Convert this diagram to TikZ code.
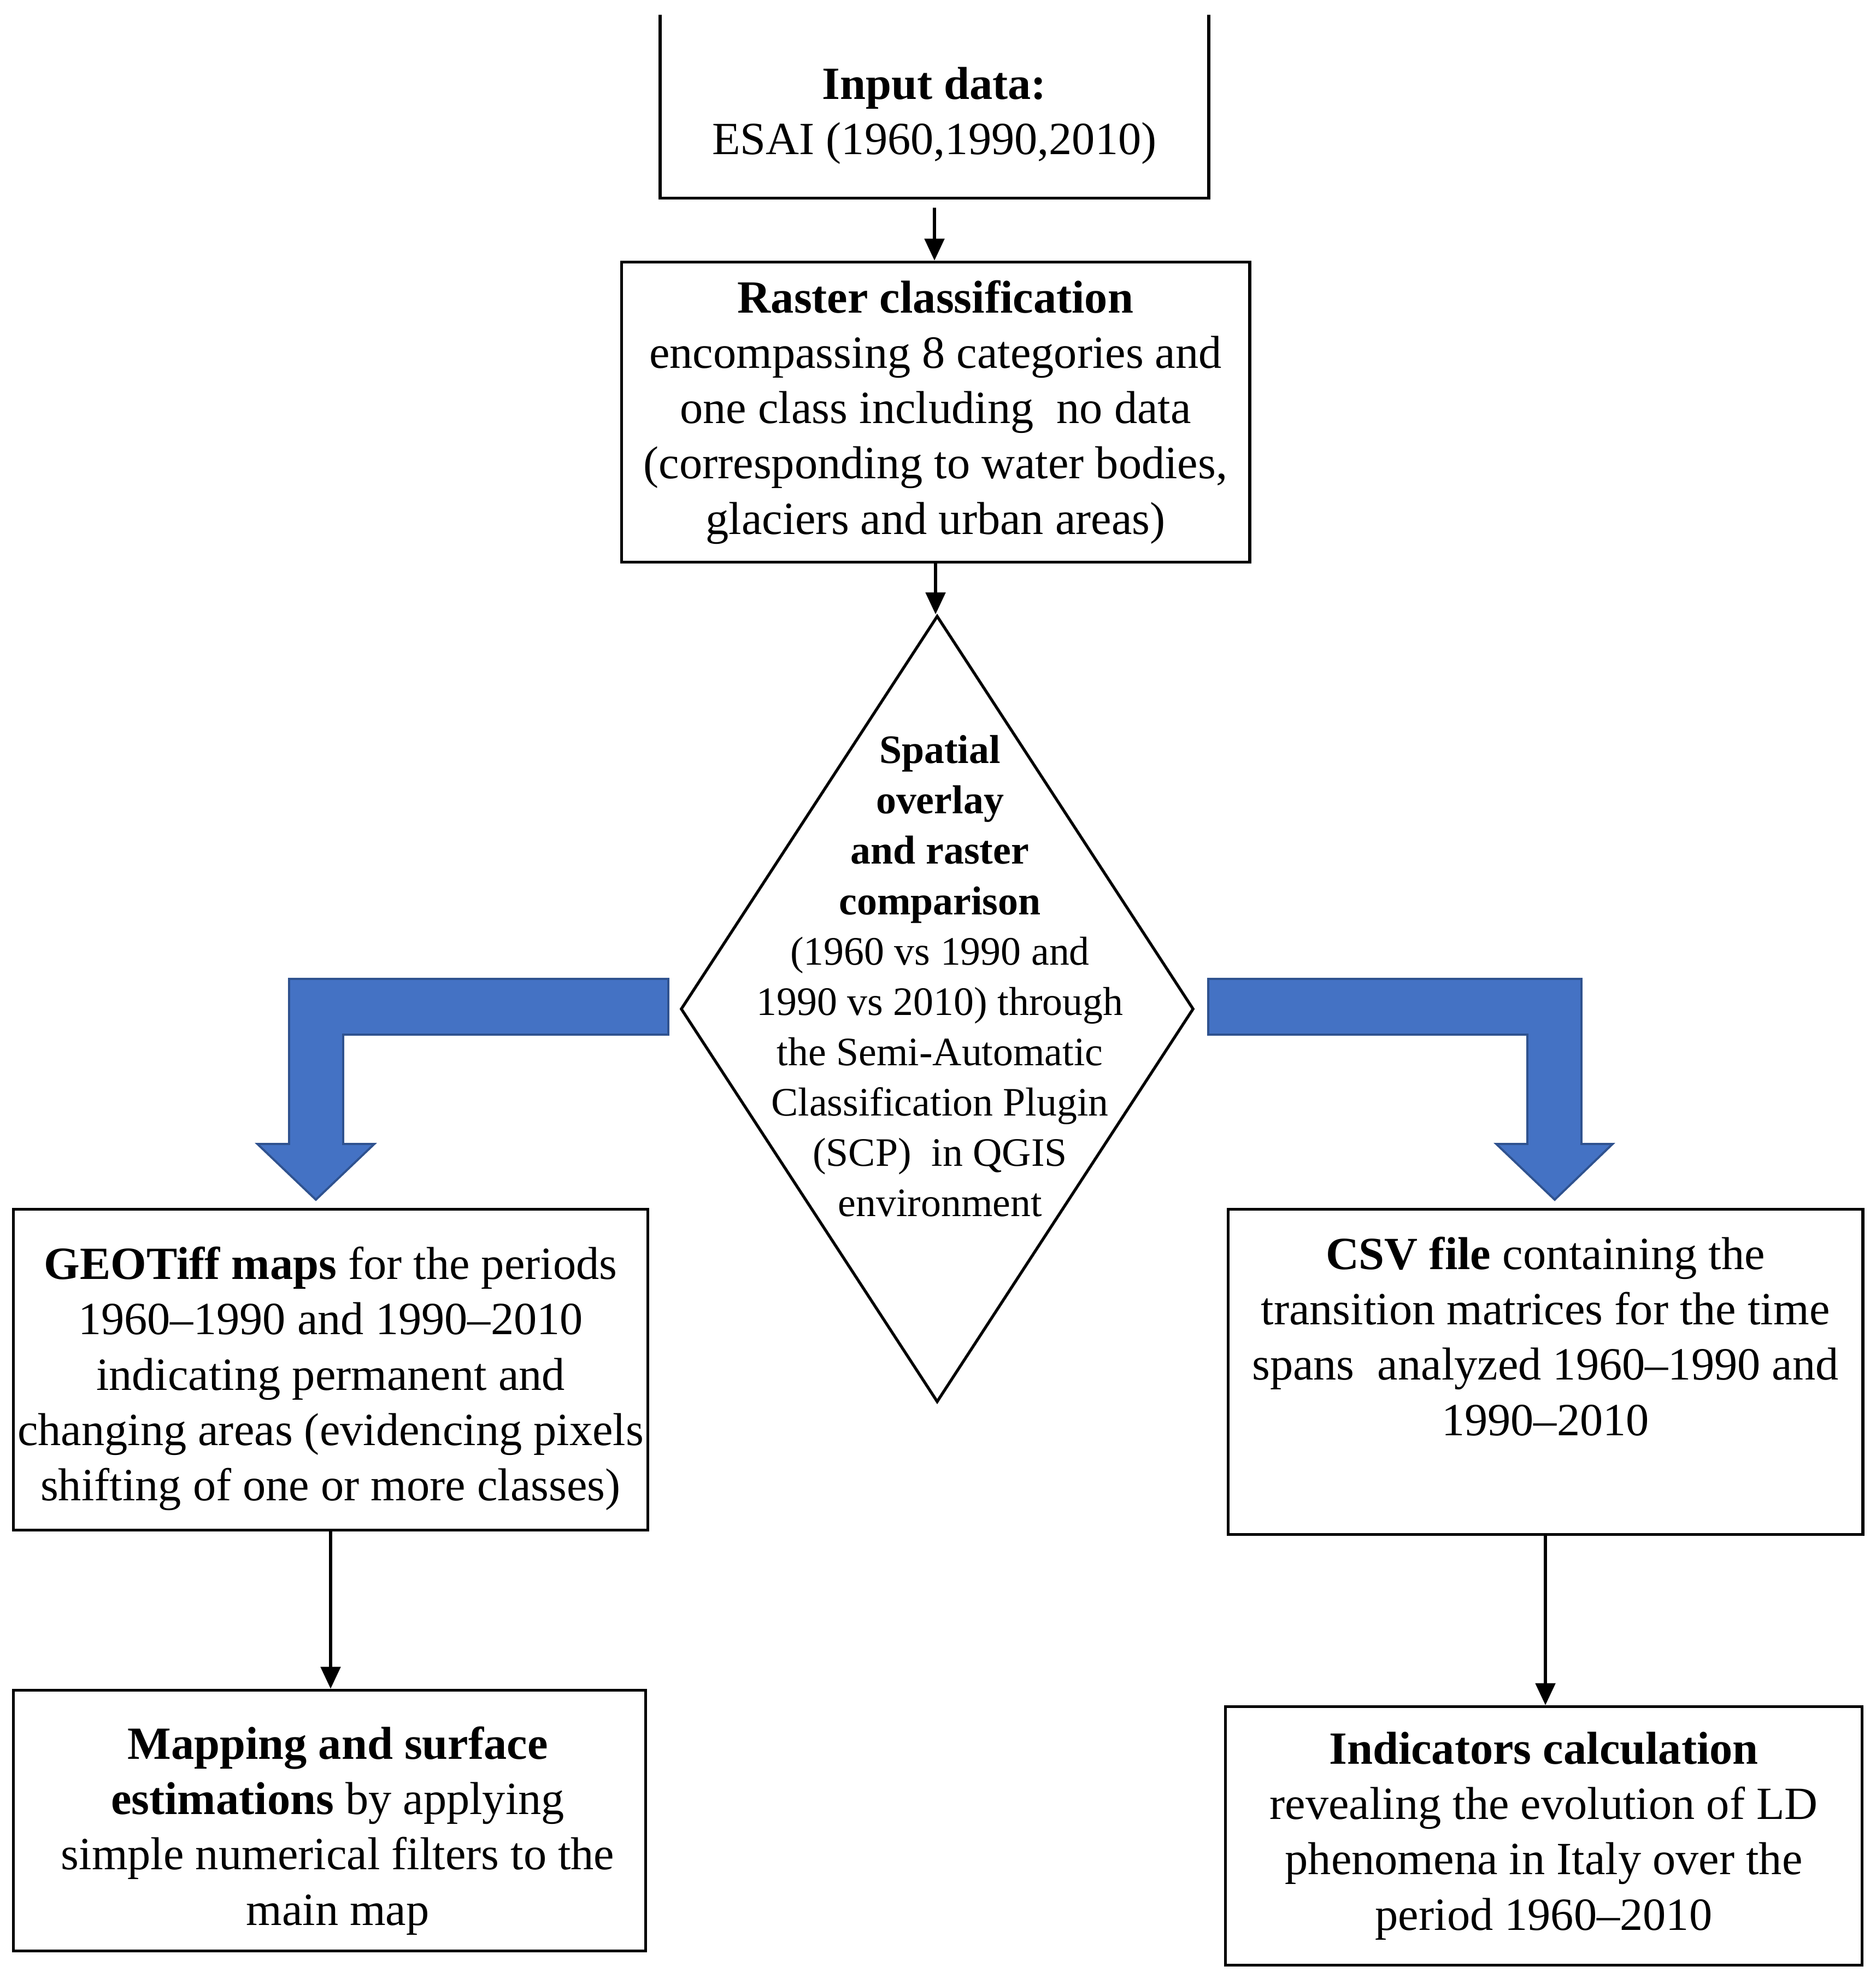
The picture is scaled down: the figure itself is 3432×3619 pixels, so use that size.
\documentclass[tikz,border=0pt]{standalone}
\usepackage{fontspec}
\setmainfont{Liberation Serif}
\usetikzlibrary{shapes.geometric,arrows.meta,positioning}

\definecolor{arrowblue}{HTML}{4472C4}
\definecolor{arrowedge}{HTML}{2F528F}

\begin{document}
\begin{tikzpicture}[
    x=0.01cm, y=-0.01cm,
    box/.style={rectangle, draw=black, line width=1.5pt, align=center, inner sep=0pt, font=\fontsize{24}{28.8}\selectfont},
    openbox/.style={rectangle, align=center, inner sep=0pt, font=\fontsize{24}{28.8}\selectfont},
    decision/.style={diamond, draw=black, line width=1.5pt, inner sep=0pt, minimum width=9.38cm, minimum height=14.38cm},
    dectext/.style={align=center, inner sep=0pt, font=\fontsize{21}{26.2}\selectfont},
    arrow/.style={-{Triangle[length=0.4cm, width=0.36cm]}, line width=1.5pt},
    bendarrow/.style={fill=arrowblue, draw=arrowedge, line width=1.1pt, line join=miter}
]
    \useasboundingbox (0,0) rectangle (3432,3619);

    % top of the chart
    \node [openbox, minimum width=10.02cm, minimum height=3.34cm] (input) at (1710,195)
        {\\[-0.09cm]\textbf{Input data:}\\ESAI (1960,1990,2010)};
    \draw [line width=1.5pt] (input.north west) -- (input.south west) -- (input.south east) -- (input.north east);

    \node [box, minimum width=11.49cm, minimum height=5.49cm] (raster) at (1712,754)
        {\textbf{Raster classification}\\encompassing 8 categories and\\one class including \ no data\\(corresponding to water bodies,\\glaciers and urban areas)};

    \node [decision] (ovl) at (1715,1846) {};
    \node [dectext] (ovltext) at (1720,1786)
        {\textbf{Spatial}\\\textbf{overlay}\\\textbf{and raster}\\\textbf{comparison}\\(1960 vs 1990 and\\1990 vs 2010) through\\the Semi-Automatic\\Classification Plugin\\(SCP) \ in QGIS\\environment};

    % two branches
    \node [box, minimum width=11.61cm, minimum height=5.87cm] (geo) at (605,2506)
        {\\[-0.09cm]\textbf{GEOTiff maps} for the periods\\1960--1990 and 1990--2010\\indicating permanent and\\changing areas (evidencing pixels\\shifting of one or more classes)};
    \node [box, minimum width=11.57cm, minimum height=4.77cm] (map) at (603,3331)
        {\\[-0.05cm]\hspace*{0.3cm}\textbf{Mapping and surface}\\\hspace*{0.3cm}\textbf{estimations} by applying\\\hspace*{0.3cm}simple numerical filters to the\\\hspace*{0.3cm}main map};

    \node [box, minimum width=11.61cm, minimum height=5.94cm] (csv) at (2828,2510)
        {\textbf{CSV file} containing the\\transition matrices for the time\\spans \ analyzed 1960--1990 and\\1990--2010\\[0.3cm]\mbox{}};
    \node [box, minimum width=11.64cm, minimum height=4.73cm] (ind) at (2825,3359)
        {\textbf{Indicators calculation}\\revealing the evolution of LD\\phenomena in Italy over the\\period 1960--2010};

    \draw [arrow, shorten <=0.17cm] (input.south) -- (input.south |- raster.north);
    \draw [arrow] (raster.south) -- (raster.south |- ovl.north);
    \draw [arrow] (geo.south) -- (geo.south |- map.north);
    \draw [arrow] (csv.south) -- (csv.south |- ind.north);

    % bent block arrows
    \filldraw [bendarrow] (1223,1791) -- (529,1791) -- (529,2093) -- (471,2093) -- (578,2195)
        -- (685,2093) -- (628,2093) -- (628,1893) -- (1223,1893) -- cycle;
    \filldraw [bendarrow] (2211,1791) -- (2894,1791) -- (2894,2093) -- (2951,2093) -- (2845,2195)
        -- (2738,2093) -- (2795,2093) -- (2795,1893) -- (2211,1893) -- cycle;
\end{tikzpicture}
\end{document}
